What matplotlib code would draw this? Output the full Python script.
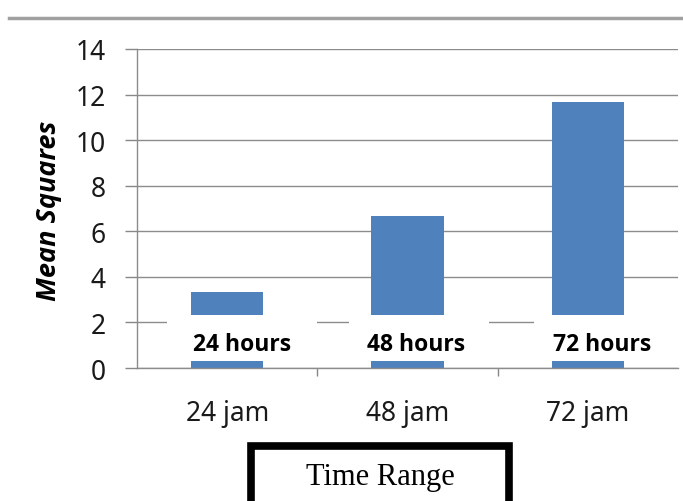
import matplotlib
matplotlib.use('Agg')
import matplotlib.pyplot as plt
from matplotlib.patches import Rectangle
from matplotlib.lines import Line2D

# data
categories = ['24 jam', '48 jam', '72 jam']
mean_squares = [3.33, 6.67, 11.67]
overlay_labels = ['24 hours', '48 hours', '72 hours']
y_ticks = [0, 2, 4, 6, 8, 10, 12, 14]

fig = plt.figure(figsize=(6.83, 5.02), dpi=100)
ax = fig.add_axes([137 / 683, 1 - 369 / 502, 541 / 683, 319 / 502])

x = range(len(categories))
ax.bar(x, mean_squares, width=0.4, color='#4F81BD', zorder=2)

ax.set_xlim(-0.5, 2.5)
ax.set_ylim(0, 14)
ax.set_yticks(y_ticks)
ax.set_xticks(list(x))
ax.set_xticklabels(categories)
ax.set_xticks([0.5, 1.5], minor=True)
ax.tick_params(axis='x', which='major', length=0, pad=22, labelsize=19)
ax.tick_params(axis='x', which='minor', length=5.8, color='#888888', width=1)
ax.tick_params(axis='y', length=8.6, color='#888888', width=1, pad=14, labelsize=19)
for lbl in ax.get_xticklabels() + ax.get_yticklabels():
    lbl.set_fontfamily('Noto Sans')
    lbl.set_color('#1a1a1a')

ax.grid(axis='y', color='#8c8c8c', linewidth=1, zorder=0)
for s in ['top', 'right']:
    ax.spines[s].set_visible(False)
for s in ['left', 'bottom']:
    ax.spines[s].set_color('#8c8c8c')
    ax.spines[s].set_linewidth(1)

fig.text(49 / 683, 1 - 211 / 502, 'Mean Squares', rotation=90, ha='center', va='center',
         fontsize=19.5, fontweight='bold', style='italic', family='Open Sans')

# white label boxes pasted over the bars
box_x = [(-0.334, 0.5), (0.677, 1.45), (1.70, 2.6)]
label_x = [0.08, 1.05, 2.08]
for (x0, x1), lx, txt in zip(box_x, label_x, overlay_labels):
    ax.add_patch(Rectangle((x0, 0.31), x1 - x0, 2.0, facecolor='white',
                           edgecolor='none', zorder=3, clip_on=False))
    ax.text(lx, 1.05, txt, ha='center', va='center', fontsize=16.5,
            fontweight='bold', family='Open Sans', zorder=4)

# top rule line
fig.add_artist(Line2D([9 / 683, 1], [1 - 19 / 502, 1 - 19 / 502],
                      color='#a0a0a0', linewidth=2.5))

# bottom "Time Range" box
fig.add_artist(Rectangle((251 / 683, -0.05), 257.5 / 683, 0.05 + 1 - 446.5 / 502,
                         facecolor='white', edgecolor='black', linewidth=5.5))
fig.text(380 / 683, 1 - 478 / 502, 'Time Range', ha='center', va='center',
         fontsize=22, family='Liberation Serif')

fig.savefig('out.png', dpi=100)
